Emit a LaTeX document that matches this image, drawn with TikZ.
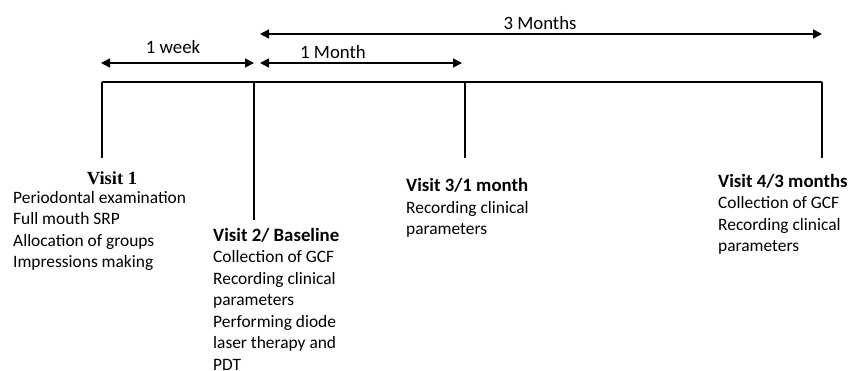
\documentclass[tikz,border=0pt]{standalone}
\usepackage{fontspec}
\setmainfont{Carlito}
\newfontfamily\headserif{Liberation Serif}
\usetikzlibrary{arrows.meta,positioning}
\newcommand\vhead[1]{{\bfseries\fontsize{18.8}{21.5}\selectfont #1}}
\tikzset{
	tline/.style={line width=1.1pt},
	span/.style={{Triangle[length=9pt,width=9pt]}-{Triangle[length=9pt,width=9pt]},line width=1.5pt},
	lbl/.style={anchor=base,inner sep=0pt,font=\fontsize{18.8}{21}\selectfont},
	visit/.style={anchor=north west,align=left,inner sep=0pt,font=\fontsize{17.4}{21.5}\selectfont,execute at begin node=\strut}
}
\begin{document}
\begin{tikzpicture}[x=1pt,y=-1pt]
		\useasboundingbox (0,0) rectangle (852,371);
		\coordinate (t1) at (102,82);
		\coordinate (t2) at (254,82);
		\coordinate (t3) at (465,82);
		\coordinate (t4) at (822,82);
		\coordinate (b1) at (102,158);
		\coordinate (b2) at (254,220);
		\coordinate (b3) at (465,158);
		\coordinate (b4) at (822,158);
		\draw[tline] (t1)--(t4);
		\foreach \i in {1,...,4}\draw[tline](t\i)--(b\i);
		\coordinate (w1) at (101,63);
		\coordinate (w2) at (254,63);
		\coordinate (m1) at (260,63);
		\coordinate (m2) at (462,63);
		\coordinate (q1) at (260,34);
		\coordinate (q2) at (822,34);
		\foreach \x/\y in {w1/w2,m1/m2,q1/q2}\draw[span](\x)--(\y);
		\node[lbl] (wk) at (173,54) {1 week};
		\node[lbl] (mo) at (333,59) {1 Month};
		\node[lbl] (mq) at (540,30) {3 Months};
		\node[anchor=base,inner sep=0pt,font=\headserif\bfseries\fontsize{18.5}{21}\selectfont] (v1h) at (112,185) {Visit 1};
		\node[visit] (v1) at (13,191) {Periodontal examination\\Full mouth SRP\\Allocation of groups\\Impressions making};
		\node[visit] (v2) at (213,228) {\vhead{Visit 2/ Baseline}\\Collection of GCF\\Recording clinical\\parameters\\Performing diode\\laser therapy and\\PDT};
		\node[visit] (v3) at (406,178.5) {\vhead{Visit 3/1 month}\\Recording clinical\\parameters};
		\node[visit] (v4) at (718,174) {\vhead{Visit 4/3 months}\\Collection of GCF\\Recording clinical\\parameters};
	\end{tikzpicture}
\end{document}
